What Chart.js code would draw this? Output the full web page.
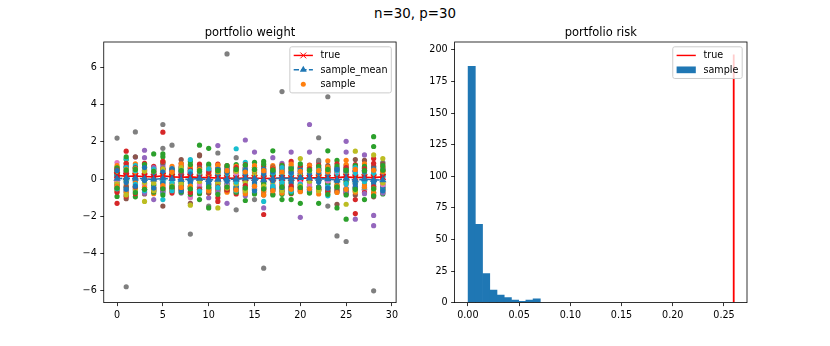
<!DOCTYPE html>
<html>
<head>
<meta charset="utf-8">
<title>n=30, p=30</title>
<script src="https://cdn.jsdelivr.net/npm/chart.js@4.4.1/dist/chart.umd.min.js"></script>
<style>
  html, body { margin: 0; padding: 0; background: #fff; }
  #fig { position: relative; width: 830px; height: 346px; overflow: hidden; font-family: 'DejaVu Sans', sans-serif; }
  #suptitle { position: absolute; left: 0; top: 5px; width: 830px; text-align: center; font-size: 13.4px; line-height: 18px; color: #000; }
  canvas { position: absolute; top: 0; }
  #weightChart { left: 0; }
  #riskChart { left: 415px; }
</style>
</head>
<body>
<div id="fig">
  <div id="suptitle">n=30, p=30</div>
  <canvas id="weightChart" width="415" height="346"></canvas>
  <canvas id="riskChart" width="415" height="346"></canvas>
</div>
<script>
// ---- portfolio weight (left panel) ----

const assetIndex = [0, 1, 2, 3, 4, 5, 6, 7, 8, 9, 10, 11, 12, 13, 14, 15, 16, 17, 18, 19, 20, 21, 22, 23, 24, 25, 26, 27, 28, 29];

const trueWeight = [0.20, 0.15, 0.16, 0.14, 0.12, 0.18, 0.12, 0.10, 0.12, 0.08, 0.08, 0.06, 0.05, 0.04, 0.05,
  0.06, 0.03, 0.04, 0.06, 0.05, 0.04, 0.06, 0.08, 0.06, 0.08, 0.12, 0.08, 0.10, 0.08, 0.12];

const sampleMeanWeight = [0.02, 0.05, 0.04, 0.02, -0.02, 0.04, 0.01, -0.03, 0.00, 0.03, -0.04, -0.03, 0.00, -0.02, 0.04,
  0.03, -0.06, 0.02, 0.05, 0.03, 0.06, 0.04, 0.02, 0.00, -0.05, 0.02, -0.05, 0.00, -0.04, -0.05];

// sampled weights, one row per sample, grouped by the colour each sample got
const samplesOrange = [
  [0.52, 0.18, -0.36, 0.47, -0.62, 0.28, 0.68, -0.41, 0.22, 0.57, -0.33, 0.11, 0.63, -0.24, 0.41, -0.49, 0.36, 0.72, -0.28, 0.15, 0.58, -0.44, 0.26, 0.98, -0.13, 1.01, 0.34, -0.52, 0.44, 0.23],
  [-0.45, -0.31, 0.82, -0.27, 0.35, -0.58, -0.22, 0.62, -0.67, -0.18, 0.49, -0.63, -0.41, 0.29, -0.55, 0.24, -0.68, -0.35, 0.52, -0.42, -0.27, 0.33, -0.58, -0.46, 0.41, -0.29, -0.61, 0.21, -0.38, -0.56],
  [-0.15, 0.24, -0.20, 0.28, -0.12, 0.18, -0.26, 0.10, 0.24, -0.22, 0.15, -0.17, 0.26, -0.20, 0.12, 0.27, -0.14, 0.21, -0.24, 0.16, -0.10, 0.13, 0.26, -0.19, 0.22, -0.13, 0.19, -0.25, 0.11, -0.17],
  [0.72, -0.75, 0.35, 0.68, -0.78, 0.45, -0.60, 0.82, 0.70, -0.72, 0.62, 0.75, -0.70, 0.68, -0.78, 0.72, -0.85, 0.60, -0.75, 0.80, -0.68, 0.72, -0.80, 0.65, -0.72, 0.78, -0.70, 0.82, -0.75, 0.68],
  [-0.38, 0.52, 0.55, -0.45, 0.42, -0.35, 0.38, -0.45, -0.38, 0.52, -0.62, 0.42, 0.45, -0.58, 0.38, -0.38, 0.45, -0.62, 0.38, -0.55, 0.42, -0.52, 0.45, 0.38, -0.38, -0.55, 0.52, -0.42, 0.48, 0.38]
];
const samplesGreen = [
  [-0.93, 1.05, -0.95, 0.62, 1.35, 1.35, 0.15, 0.52, 0.95, 1.82, 1.65, -0.28, 0.45, 0.78, -1.15, 0.90, 0.95, 1.52, -1.10, -1.10, -1.30, -0.75, -1.30, 1.52, 1.00, -2.15, 0.42, -1.10, 2.28, -0.80],
  [0.44, -0.68, 0.35, -0.48, -0.29, 1.20, -0.51, -0.33, -0.82, -1.10, -1.55, 0.57, -0.62, -0.45, 0.51, -0.38, -0.28, 0.41, -0.82, 0.48, 0.62, -0.42, 0.33, -0.62, -1.55, 0.55, -0.48, 0.61, 1.75, 0.44],
  [0.27, -0.11, 0.14, -0.24, 0.20, -0.16, 0.25, -0.21, 0.12, 0.28, -0.13, 0.22, -0.26, 0.16, -0.20, 0.14, -0.24, 0.26, 0.18, -0.14, 0.21, -0.19, 0.15, -0.23, 0.27, -0.16, 0.12, 0.24, -0.15, 0.19],
  [0.60, 1.20, -0.72, 0.78, -0.70, -0.85, 0.55, -0.70, 0.78, -0.78, 0.80, -0.82, 0.72, -0.70, 0.75, -0.80, 0.80, -0.85, 0.72, -0.75, 0.82, -0.70, 0.68, -0.82, 0.70, -0.85, 0.72, 0.68, -0.90, 0.72],
  [-0.48, 0.48, 0.52, -0.55, 0.42, -0.52, -0.42, 0.45, -0.52, 0.45, -0.42, 0.45, -0.42, 0.52, -0.48, 0.52, -0.52, 0.48, -0.42, 0.55, -0.45, 0.48, -0.45, 0.52, -0.42, 0.48, -0.55, 0.45, -0.52, 0.48]
];
const samplesRed = [
  [-1.30, 1.50, 0.22, 0.85, -0.44, 2.52, -0.32, 0.28, -0.51, 0.38, -0.28, -1.20, 0.35, -0.58, 0.26, -0.35, -1.90, 0.24, 0.46, 0.95, -0.52, 0.75, 0.58, -0.48, 0.36, -0.72, -1.85, 0.41, 1.10, 0.56],
  [0.18, -0.92, 0.61, -0.62, 0.52, -0.45, 0.48, -0.58, 0.35, -0.44, 0.55, -1.00, -0.48, 0.43, -0.62, 0.52, 0.36, -0.48, -0.35, -0.60, 0.32, -0.38, -0.42, 0.62, -0.50, 0.46, -1.10, -0.55, -0.85, -0.28],
  [-0.70, 0.85, -0.78, -0.72, 0.68, 0.95, -0.75, 0.70, -0.72, 0.80, -0.75, 0.80, 0.72, -0.80, 0.78, -0.72, 0.68, -0.80, 0.75, -0.78, 0.70, -0.65, 0.75, -0.70, 0.82, -0.80, 0.78, -0.72, 0.85, -0.70],
  [0.48, 0.35, -0.42, 0.32, -0.62, 0.55, -0.45, 0.38, 0.48, -0.55, 0.35, -0.42, -0.58, 0.62, -0.35, 0.45, -0.52, 0.55, 0.62, -0.38, -0.45, 0.55, -0.55, 0.42, -0.35, 0.62, -0.45, 0.55, -0.42, 0.45]
];
const samplesPurple = [
  [0.22, -0.85, 1.18, 1.55, -1.10, -0.50, 0.35, -0.75, -0.95, 0.72, -1.00, 1.80, -1.30, 0.42, 2.10, 1.45, -1.55, 1.15, 0.85, 1.45, -2.05, 2.93, 0.55, -0.62, 0.38, 2.03, -2.15, 1.30, -2.50, 0.52],
  [-0.35, 0.42, -0.52, 1.15, 0.58, 0.72, -0.58, 0.46, 0.62, -0.41, -0.62, 0.52, 0.48, -0.72, -0.90, 0.34, 0.55, -0.36, -0.62, 0.42, -0.65, 1.45, -0.48, 0.35, -0.41, 1.45, -0.52, -0.42, -1.95, -0.33],
  [0.52, -0.62, 0.42, -0.75, 0.62, -0.62, 0.45, -0.45, 0.35, -0.72, 0.45, -0.72, 0.55, -0.55, 0.62, -0.75, 0.42, -0.62, 0.55, -0.68, 0.38, -0.62, 0.45, -0.48, 0.62, -0.72, 0.42, -0.78, 0.48, -0.75]
];
const samplesBrown = [
  [0.62, -1.05, 1.20, -0.80, 0.38, -1.45, -0.65, 1.05, -1.30, 1.30, 0.42, -0.55, 0.58, 0.36, -0.45, 0.62, -0.62, 0.48, 0.38, -0.45, 0.55, 0.46, -0.62, 0.52, -1.35, 0.72, 1.05, 1.00, -0.72, 0.62],
  [-0.52, 0.72, -0.45, 0.38, -0.55, 0.88, 0.42, -0.38, 0.58, 1.25, -0.48, 0.35, -0.42, -0.52, 0.58, -0.58, 0.22, -0.55, -0.48, 0.62, -0.42, -0.58, 0.92, -0.45, 0.56, -0.62, 0.45, -0.52, 0.68, -0.56],
  [0.35, -0.42, 0.62, -0.55, 0.25, 0.52, -0.55, 0.85, -0.38, 0.62, -0.72, 0.55, -0.62, 0.45, -0.72, 0.38, -0.85, 0.65, -0.65, 0.35, -0.62, 0.38, -0.55, 0.72, -0.62, 0.35, -0.85, 0.45, -0.95, 0.82]
];
const samplesPink = [
  [0.89, 0.45, -0.62, 0.52, -0.45, 0.62, 0.58, -0.52, -1.00, 0.65, 0.41, -0.48, 0.62, -0.46, 0.55, 0.38, -0.72, 0.62, 0.58, -0.56, 0.42, 0.58, -0.48, -0.62, 0.45, 0.62, -0.65, 0.48, 0.72, -0.42],
  [-0.42, -0.58, 0.45, -0.35, 0.48, -0.32, -0.45, 0.55, 0.42, -0.38, -0.55, 0.62, -0.42, 0.58, -0.48, -0.45, 0.35, -0.48, -0.42, 0.48, -0.62, -0.42, 0.62, 0.48, -0.58, -0.48, 0.55, -0.55, -0.48, 0.58],
  [-0.08, 0.28, 0.18, -0.30, 0.32, 0.10, -0.28, 0.16, 0.30, -0.26, 0.22, -0.08, -0.30, 0.28, -0.32, 0.12, 0.30, -0.28, 0.10, 0.31, -0.18, -0.30, 0.30, -0.10, 0.28, 0.10, -0.32, 0.30, 0.12, -0.30]
];
const samplesGrey = [
  [2.20, -5.78, 2.53, -0.42, 0.35, 2.93, 1.82, -0.48, -2.95, 0.52, -1.45, 1.40, 6.72, -1.65, 0.45, -1.10, -4.78, 0.38, 4.70, -0.52, 0.62, -0.45, 2.22, 4.42, -3.05, -3.35, 0.58, -0.62, -6.00, 0.90],
  [-0.55, 0.62, -0.42, 0.48, -0.52, 1.65, -0.38, 0.58, 0.55, -0.48, 0.46, -0.52, 0.45, 1.15, -0.42, 0.55, -0.48, 0.45, -0.55, 0.42, -0.48, 0.62, 1.00, -1.45, 0.48, -0.55, 0.68, -0.45, 0.52, -0.45]
];
const samplesOlive = [
  [0.55, -0.48, 0.62, -1.20, 0.58, -0.62, 0.48, -0.58, -1.40, 0.55, -0.52, -1.55, 0.58, -0.48, 0.62, -0.55, 0.45, -0.62, 0.52, -0.58, 1.10, -0.52, 0.58, -0.55, 0.45, -1.35, 1.50, -0.58, 1.30, 1.10],
  [-0.62, 0.85, -0.55, 0.55, -0.48, 0.95, -0.55, 0.48, 0.62, -0.58, 0.58, 0.45, -0.58, 0.62, -0.52, 0.62, -0.55, 0.58, -0.48, 0.68, -0.55, 0.52, -0.48, 0.62, -0.52, 0.58, -0.45, 0.62, -0.55, -0.48],
  [-0.25, 0.15, 0.28, -0.18, -0.22, 0.26, 0.14, -0.25, 0.19, -0.13, 0.27, -0.22, 0.17, -0.26, -0.14, 0.21, 0.18, -0.16, 0.28, -0.24, 0.16, -0.12, 0.21, 0.15, -0.25, 0.26, -0.20, 0.17, 0.23, -0.21],
  [0.42, -0.85, 0.48, 0.42, -0.62, 0.55, -0.38, 0.62, -0.45, 0.38, -0.62, 0.38, -0.48, 0.42, -0.62, 0.45, -0.38, 0.48, -0.62, 0.45, -0.38, 0.45, -0.62, 0.52, -0.38, 0.45, -0.62, 0.38, -0.52, 0.45]
];
const samplesCyan = [
  [0.25, 1.10, -0.62, -0.55, 0.45, -1.10, 0.52, -0.48, 1.05, -0.55, 0.70, -0.62, 0.55, 1.63, 0.90, -0.52, -1.20, 0.45, -0.62, 0.55, -0.48, 0.62, -0.55, -0.90, 0.58, -0.62, 0.45, -0.58, 0.62, -0.52],
  [-0.18, -0.45, 0.72, 0.38, -0.62, 0.55, -0.48, 0.62, -0.55, 0.45, -0.42, 0.55, -0.62, -0.45, -0.55, 0.48, -0.45, -0.55, 0.45, -0.42, 0.58, -0.48, 0.52, 0.42, -0.45, 0.55, -0.52, 0.48, -0.42, 0.55],
  [0.20, 0.32, -0.28, 0.15, 0.26, -0.12, -0.18, 0.30, -0.22, 0.18, -0.30, 0.27, 0.12, -0.16, 0.31, -0.27, 0.14, 0.33, -0.19, 0.26, -0.28, 0.30, -0.12, 0.34, 0.16, -0.24, 0.28, -0.14, 0.31, 0.12],
  [-0.52, 0.62, 0.45, -0.62, 0.52, 0.38, -0.62, 0.45, 0.42, -0.65, 0.55, -0.45, 0.42, -0.62, 0.45, -0.62, 0.52, -0.38, 0.62, -0.65, 0.45, -0.55, 0.48, -0.42, 0.45, -0.52, 0.62, -0.45, 0.48, -0.62]
];
const samplesBlue = [
  [0.31, -0.42, 0.58, 0.12, -0.35, 0.84, 0.22, -0.18, 0.45, -0.62, 0.14, 0.36, -0.27, 0.52, -0.08, 0.61, -0.44, 0.19, 0.33, -0.51, 0.27, -0.16, 0.48, 0.07, -0.69, 0.38, -0.22, 0.55, -0.31, 0.12],
  [-0.28, 0.65, -0.12, -0.55, 0.21, -0.73, -0.36, 0.41, -0.48, 0.29, -0.57, -0.21, 0.44, -0.39, 0.33, -0.25, 0.12, -0.47, -0.15, 0.62, -0.34, 0.51, -0.41, -0.28, 0.18, -0.52, 0.43, -0.36, 0.26, -0.45],
  [0.12, -0.18, 0.25, -0.08, 0.15, -0.22, 0.08, 0.21, -0.15, 0.10, -0.24, 0.18, -0.12, 0.05, 0.22, -0.18, 0.27, -0.09, 0.14, -0.21, 0.09, 0.24, -0.16, 0.20, -0.11, 0.17, -0.25, 0.13, -0.19, 0.23],
  [0.45, -0.55, -0.38, 0.62, -0.48, 0.38, 0.55, -0.62, 0.28, 0.42, -0.45, 0.52, 0.35, -0.55, 0.48, -0.62, 0.52, 0.38, -0.45, 0.35, 0.48, -0.55, 0.35, -0.48, 0.52, 0.45, -0.42, 0.38, 0.55, -0.62]
];

const weightXTicks = [0, 5, 10, 15, 20, 25, 30];
const weightYTicks = [-6, -4, -2, 0, 2, 4, 6];

// ---- portfolio risk (right panel) ----

const riskBinCenters = [0.00373, 0.01078, 0.01783, 0.02488, 0.03193, 0.03898, 0.04603, 0.05308, 0.06013, 0.06718];
const riskCounts = [187, 62, 23, 10, 6, 4, 2, 1, 2, 3];
const trueRisk = 0.2595;
const trueRiskTop = 196.35;

const riskXTicks = [0, 0.05, 0.1, 0.15, 0.2, 0.25];
const riskYTicks = [0, 25, 50, 75, 100, 125, 150, 175, 200];

// matplotlib colour cycle, in the order the samples were drawn (C1 first)
const sampleGroups = [
  { color: '#ff7f0e', rows: samplesOrange },
  { color: '#2ca02c', rows: samplesGreen },
  { color: '#d62728', rows: samplesRed },
  { color: '#9467bd', rows: samplesPurple },
  { color: '#8c564b', rows: samplesBrown },
  { color: '#e377c2', rows: samplesPink },
  { color: '#7f7f7f', rows: samplesGrey },
  { color: '#bcbd22', rows: samplesOlive },
  { color: '#17becf', rows: samplesCyan },
  { color: '#1f77b4', rows: samplesBlue }
];

const fontFamily = "'DejaVu Sans', sans-serif";
const tickFontSize = 9.6;

/**
 * Linear axis styled like matplotlib: outward ticks, fixed tick list
 */
function makeAxis(min, max, tickValues, format, fitSize, horizontal) {
  return {
    type: 'linear',
    min: min,
    max: max,
    offset: false,
    grid: { drawOnChartArea: false, drawTicks: true, tickLength: 3.5, color: '#000', lineWidth: 0.8, offset: false },
    border: { display: false },
    ticks: {
      padding: 3.5,
      color: '#000',
      maxRotation: 0,
      autoSkip: false,
      font: { family: fontFamily, size: tickFontSize },
      callback: format
    },
    afterBuildTicks: (scale) => { scale.ticks = tickValues.map(value => ({ value })); },
    afterFit: (scale) => {
      if (horizontal) scale.height = fitSize;
      else scale.width = fitSize;
    }
  };
}

function minusFormat(v) {
  return v < 0 ? '\u2212' + Math.abs(v) : String(v);
}

function axesTitle(text) {
  return {
    display: true,
    text: text,
    fullSize: false,
    color: '#000',
    font: { family: fontFamily, size: 11.5, weight: 'normal' },
    padding: { top: 26, bottom: 2.2 }
  };
}

// black box round the plot area
const axesFrame = {
  id: 'axesFrame',
  afterDatasetsDraw(chart) {
    const { ctx, chartArea: a } = chart;
    ctx.save();
    ctx.strokeStyle = '#000';
    ctx.lineWidth = 0.8;
    ctx.strokeRect(a.left, a.top, a.right - a.left, a.bottom - a.top);
    ctx.restore();
  }
};

function drawHandle(ctx, item, x, cy, len) {
  const mid = x + len / 2;
  ctx.strokeStyle = item.color;
  ctx.fillStyle = item.color;
  if (item.kind === 'line' || item.kind === 'crossLine' || item.kind === 'dashTriangle') {
    ctx.lineWidth = 1.44;
    ctx.setLineDash(item.kind === 'dashTriangle' ? [5.3, 2.3] : []);
    ctx.beginPath();
    ctx.moveTo(x, cy);
    ctx.lineTo(x + len, cy);
    ctx.stroke();
    ctx.setLineDash([]);
  }
  if (item.kind === 'crossLine') {
    const r = 2.9;
    ctx.lineWidth = 1;
    ctx.beginPath();
    ctx.moveTo(mid - r, cy - r); ctx.lineTo(mid + r, cy + r);
    ctx.moveTo(mid - r, cy + r); ctx.lineTo(mid + r, cy - r);
    ctx.stroke();
  }
  if (item.kind === 'dashTriangle') {
    const r = 4;
    ctx.beginPath();
    ctx.moveTo(mid, cy - r);
    ctx.lineTo(mid + r * 0.866, cy + r * 0.5);
    ctx.lineTo(mid - r * 0.866, cy + r * 0.5);
    ctx.closePath();
    ctx.fill();
  }
  if (item.kind === 'dot') {
    ctx.beginPath();
    ctx.arc(mid, cy, 2.5, 0, Math.PI * 2);
    ctx.fill();
  }
  if (item.kind === 'patch') {
    ctx.fillRect(x, cy - 0.35 * tickFontSize, len, 0.7 * tickFontSize);
  }
}

/**
 * matplotlib style legend in the upper right corner of the plot area
 */
function makeLegend(items) {
  return {
    id: 'axesLegend',
    afterDraw(chart) {
      const { ctx, chartArea } = chart;
      const fs = tickFontSize;
      const pad = 0.4 * fs, handleLen = 2 * fs, textGap = 0.8 * fs, rowH = fs, rowGap = 0.5 * fs;
      ctx.save();
      ctx.font = fs + 'px ' + fontFamily;
      const textW = Math.max(...items.map(it => ctx.measureText(it.label).width));
      const w = 2 * pad + handleLen + textGap + textW;
      const h = 2 * pad + items.length * rowH + (items.length - 1) * rowGap;
      const left = chartArea.right - 0.5 * fs - w;
      const top = chartArea.top + 0.5 * fs;

      ctx.beginPath();
      if (ctx.roundRect) ctx.roundRect(left, top, w, h, 2);
      else ctx.rect(left, top, w, h);
      ctx.fillStyle = 'rgba(255,255,255,0.8)';
      ctx.fill();
      ctx.lineWidth = 1;
      ctx.strokeStyle = '#cccccc';
      ctx.stroke();

      items.forEach((item, i) => {
        const cy = top + pad + rowH / 2 + i * (rowH + rowGap);
        const hx = left + pad;
        drawHandle(ctx, item, hx, cy, handleLen);
        ctx.fillStyle = '#000';
        ctx.textAlign = 'left';
        ctx.textBaseline = 'middle';
        ctx.fillText(item.label, hx + handleLen + textGap, cy + 0.5);
      });
      ctx.restore();
    }
  };
}

function toPoints(values) {
  return values.map((w, i) => ({ x: assetIndex[i], y: w }));
}

/**
 * One scatter dataset per sample, in drawing order
 */
function buildSampleDatasets() {
  const layers = [];
  const maxRows = Math.max(...sampleGroups.map(g => g.rows.length));
  for (let r = 0; r < maxRows; r++) {
    sampleGroups.forEach(group => {
      if (!group.rows[r]) return;
      layers.push({
        label: 'sample',
        data: toPoints(group.rows[r]),
        showLine: false,
        pointRadius: 2.6,
        pointBorderWidth: 0,
        pointBackgroundColor: group.color,
        backgroundColor: group.color
      });
    });
  }
  // Chart.js paints dataset 0 last, so the first sample has to go to the end
  return layers.reverse();
}

Chart.defaults.font.family = fontFamily;

new Chart(document.getElementById('weightChart'), {
  type: 'scatter',
  data: {
    datasets: [
      {
        label: 'sample_mean',
        data: toPoints(sampleMeanWeight),
        showLine: true,
        borderColor: '#1f77b4',
        borderWidth: 1.6,
        borderDash: [5.3, 2.3],
        pointStyle: 'triangle',
        pointRadius: 4.2,
        pointBorderWidth: 0,
        pointBackgroundColor: '#1f77b4'
      },
      {
        label: 'true',
        data: toPoints(trueWeight),
        showLine: true,
        borderColor: '#ff0000',
        borderWidth: 1.6,
        pointStyle: 'crossRot',
        pointRadius: 4.1,
        pointBorderWidth: 1.1,
        pointBorderColor: '#ff0000'
      },
      ...buildSampleDatasets()
    ]
  },
  options: {
    responsive: false,
    animation: false,
    devicePixelRatio: 1,
    events: [],
    layout: { padding: { left: 63.75, right: 18.9, top: 0, bottom: 18.4 } },
    scales: {
      x: makeAxis(-1.45, 30.45, weightXTicks, v => String(v), 25, true),
      y: makeAxis(-6.63, 7.36, weightYTicks, minusFormat, 40, false)
    },
    plugins: {
      legend: { display: false },
      tooltip: { enabled: false },
      title: axesTitle('portfolio weight')
    }
  },
  plugins: [axesFrame, makeLegend([
    { kind: 'crossLine', color: '#ff0000', label: 'true' },
    { kind: 'dashTriangle', color: '#1f77b4', label: 'sample_mean' },
    { kind: 'dot', color: '#ff7f0e', label: 'sample' }
  ])]
});

new Chart(document.getElementById('riskChart'), {
  type: 'bar',
  data: {
    datasets: [
      {
        type: 'line',
        label: 'true',
        data: [{ x: trueRisk, y: 0 }, { x: trueRisk, y: trueRiskTop }],
        borderColor: '#ff0000',
        borderWidth: 1.8,
        pointRadius: 0,
        fill: false
      },
      {
        label: 'sample',
        data: riskBinCenters.map((c, i) => ({ x: c, y: riskCounts[i] })),
        backgroundColor: '#1f77b4',
        borderWidth: 0,
        barPercentage: 1,
        categoryPercentage: 1
      }
    ]
  },
  options: {
    responsive: false,
    animation: false,
    devicePixelRatio: 1,
    events: [],
    layout: { padding: { left: 3.6, right: 83, top: 0, bottom: 18.4 } },
    scales: {
      x: makeAxis(-0.012975, 0.272475, riskXTicks, v => v.toFixed(2), 25, true),
      y: makeAxis(0, 206.2, riskYTicks, v => String(v), 36, false)
    },
    plugins: {
      legend: { display: false },
      tooltip: { enabled: false },
      title: axesTitle('portfolio risk')
    }
  },
  plugins: [axesFrame, makeLegend([
    { kind: 'line', color: '#ff0000', label: 'true' },
    { kind: 'patch', color: '#1f77b4', label: 'sample' }
  ])]
});
</script>
</body>
</html>
